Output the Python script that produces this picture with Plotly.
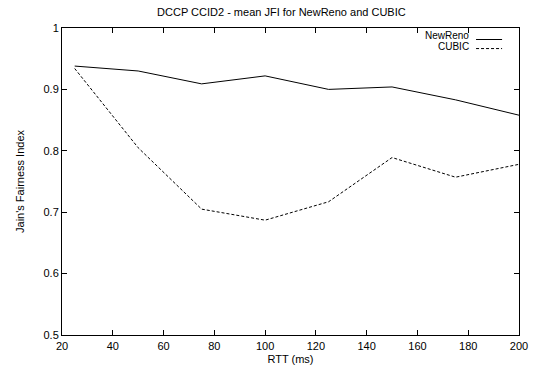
import plotly.graph_objects as go

rtt = [25, 50, 75, 100, 125, 150, 175, 200]
newreno = [0.938, 0.930, 0.909, 0.922, 0.900, 0.904, 0.883, 0.858]
cubic = [0.934, 0.805, 0.705, 0.687, 0.717, 0.789, 0.757, 0.778]

x_ticks = [20, 40, 60, 80, 100, 120, 140, 160, 180, 200]
y_ticks = [0.5, 0.6, 0.7, 0.8, 0.9, 1.0]
y_tick_text = ["0.5", "0.6", "0.7", "0.8", "0.9", "1"]

FONT = "Liberation Sans, Arial, sans-serif"

fig = go.Figure()
fig.add_trace(go.Scatter(x=rtt, y=newreno, mode="lines", name="NewReno",
                         line=dict(color="black", width=1)))
fig.add_trace(go.Scatter(x=rtt, y=cubic, mode="lines", name="CUBIC",
                         line=dict(color="black", width=1, dash="3px,2px")))

axis_common = dict(showgrid=False, zeroline=False, showline=True, linecolor="black",
                   linewidth=1, mirror="ticks", ticks="inside", ticklen=5,
                   tickcolor="black", tickwidth=1, automargin=False,
                   tickfont=dict(family=FONT, size=11, color="black"))

fig.update_xaxes(range=[20, 200], tickvals=x_ticks, ticklabelstandoff=1,
                 title=dict(text="RTT (ms)", font=dict(family=FONT, size=11, color="black"), standoff=4),
                 **axis_common)
fig.update_yaxes(range=[0.5, 1.0], tickvals=y_ticks, ticktext=y_tick_text,
                 title=dict(text="Jain's Fairness Index", font=dict(family=FONT, size=11, color="black"), standoff=16),
                 **axis_common)

# gnuplot-style legend: text right-aligned, line sample on the right
legend_items = [("NewReno", "solid", 0.977, 0.9625), ("CUBIC", "3px,2px", 0.941, 0.933)]
for name, dash, ytext, yline in legend_items:
    fig.add_annotation(x=0.893, y=ytext, xref="paper", yref="paper", text=name,
                       showarrow=False, xanchor="right", yanchor="middle", borderpad=0,
                       font=dict(family=FONT, size=10, color="black"))
    fig.add_shape(type="line", xref="paper", yref="paper", x0=0.906, x1=0.963,
                  y0=yline, y1=yline, line=dict(color="black", width=1, dash=dash))

fig.update_layout(
    width=538, height=370,
    margin=dict(l=62, r=19, t=28, b=35),
    paper_bgcolor="white", plot_bgcolor="white",
    showlegend=False,
    title=dict(text="DCCP CCID2 - mean JFI for NewReno and CUBIC",
               font=dict(family=FONT, size=11, color="black"),
               x=0.523, xanchor="center", y=0.968, yanchor="middle"),
)

fig.write_html("out.html", config={"displayModeBar": False},
               post_script="document.body.style.margin='0';document.body.style.padding='0';")
